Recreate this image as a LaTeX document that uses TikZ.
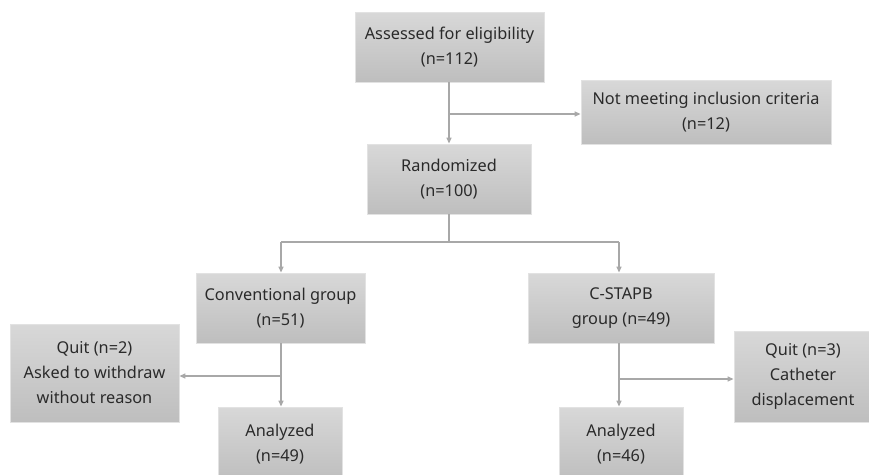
\documentclass[tikz,border=0pt]{standalone}
\usepackage{fontspec}
\setmainfont{Noto Sans}
\usetikzlibrary{arrows.meta}
\definecolor{boxtop}{HTML}{D8D8D8}
\definecolor{boxbot}{HTML}{BEBEBE}
\definecolor{boxline}{HTML}{E2E2E2}
\definecolor{linec}{HTML}{A8A8A8}
\definecolor{txt}{HTML}{2A2A2A}
\tikzset{
  fbox/.style={draw=boxline, line width=0.8pt, top color=boxtop, bottom color=boxbot,
    align=center, inner sep=0pt, font=\fontsize{16.3}{25}\selectfont, text=txt},
  conn/.style={draw=linec, line width=1.3pt},
  arr/.style={conn, -{Triangle[length=6pt,width=5pt]}}
}
\newcommand{\bx}[6]{% name, x1, y1, x2, y2, text
  \node[fbox, minimum width={(#4-#2)*1pt}, minimum height={(#5-#3)*1pt}]
    (#1) at ({(#2+#4)/2}, {(#3+#5)/2}) {#6};}
\begin{document}
\begin{tikzpicture}[x=1pt,y=-1pt]
\path[use as bounding box] (0,0) rectangle (869,474);
\clip (0,0) rectangle (869,474);
\bx{assess}{355}{12}{544}{82}{Assessed for eligibility\\(n=112)}
\bx{notmeet}{581}{80}{831}{144}{Not meeting inclusion criteria\\(n=12)}
\bx{rand}{367}{144}{531}{214}{Randomized\\(n=100)}
\bx{conv}{196}{273}{365}{343}{Conventional group\\(n=51)}
\bx{cstapb}{528}{273}{714}{343}{C-STAPB\\group (n=49)}
\bx{quitl}{10}{324}{179}{422}{Quit (n=2)\\Asked to withdraw\\without reason}
\bx{quitr}{734}{331}{872}{422}{Quit (n=3)\\Catheter\\displacement}
\bx{anl}{218}{407}{342}{481}{Analyzed\\(n=49)}
\bx{anr}{559}{407}{683}{481}{Analyzed\\(n=46)}
% top connectors
\coordinate (j1) at (449,114);
\draw[arr] (assess.south -| j1) -- (rand.north -| j1);
\draw[arr] (j1) -- (notmeet.west |- j1);
% split
\coordinate (s0) at (449,242);
\coordinate (sl) at (281,242);
\coordinate (sr) at (619,242);
\draw[conn] (rand.south -| s0) -- (s0);
\draw[conn] (sl) -- (sr);
\draw[arr] (sl) -- (conv.north -| sl);
\draw[arr] (sr) -- (cstapb.north -| sr);
% left branch
\coordinate (jl) at (281,376);
\draw[arr] (conv.south -| jl) -- (anl.north -| jl);
\draw[arr] (jl) -- (quitl.east |- jl);
% right branch
\coordinate (jr) at (619,379);
\draw[arr] (cstapb.south -| jr) -- (anr.north -| jr);
\draw[arr] (jr) -- (quitr.west |- jr);
\end{tikzpicture}
\end{document}
